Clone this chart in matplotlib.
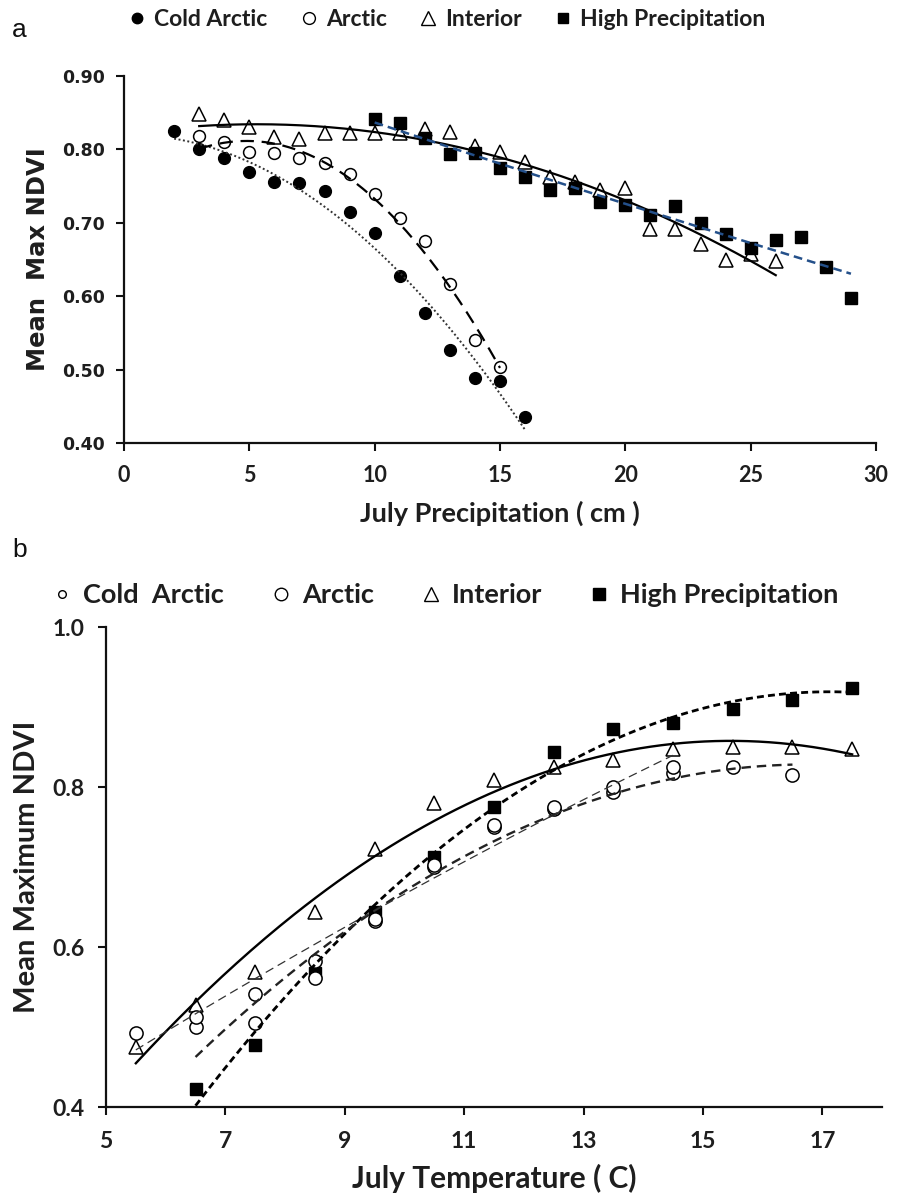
import numpy as np
import matplotlib
matplotlib.use("Agg")
import matplotlib.pyplot as plt
from matplotlib.lines import Line2D

# ---------------- Data: panel a (July precipitation) ----------------
cold_a_x = [2, 3, 4, 5, 6, 7, 8, 9, 10, 11, 12, 13, 14, 15, 16]
cold_a_y = [0.825, 0.800, 0.788, 0.769, 0.756, 0.754, 0.744, 0.715, 0.686,
            0.628, 0.577, 0.527, 0.488, 0.485, 0.435]
arctic_a_x = [3, 4, 5, 6, 7, 8, 9, 10, 11, 12, 13, 14, 15]
arctic_a_y = [0.818, 0.810, 0.796, 0.795, 0.788, 0.782, 0.766, 0.739, 0.707,
              0.675, 0.616, 0.540, 0.503]
interior_a_x = [3, 4, 5, 6, 7, 8, 9, 10, 11, 12, 13, 14, 15, 16, 17, 18, 19,
                20, 21, 22, 23, 24, 25, 26]
interior_a_y = [0.848, 0.840, 0.830, 0.817, 0.814, 0.823, 0.822, 0.822, 0.822,
                0.828, 0.824, 0.804, 0.797, 0.783, 0.763, 0.756, 0.745, 0.747,
                0.692, 0.692, 0.671, 0.649, 0.658, 0.648]
highp_a_x = [10, 11, 12, 13, 14, 15, 16, 17, 18, 19, 20, 21, 22, 23, 24, 25,
             26, 27, 28, 29]
highp_a_y = [0.842, 0.836, 0.816, 0.794, 0.795, 0.774, 0.762, 0.745, 0.748,
             0.729, 0.724, 0.710, 0.723, 0.700, 0.685, 0.665, 0.677, 0.680,
             0.640, 0.598]

# ---------------- Data: panel b (July temperature) ----------------
cold_b_x = [5.5, 6.5, 7.5, 8.5, 9.5, 10.5, 11.5, 12.5, 13.5, 14.5]
cold_b_y = [0.493, 0.512, 0.541, 0.582, 0.635, 0.703, 0.752, 0.775, 0.800, 0.825]
arctic_b_x = [6.5, 7.5, 8.5, 9.5, 10.5, 11.5, 12.5, 13.5, 14.5, 15.5, 16.5]
arctic_b_y = [0.500, 0.505, 0.561, 0.632, 0.700, 0.750, 0.773, 0.794, 0.817,
              0.825, 0.815]
interior_b_x = [5.5, 6.5, 7.5, 8.5, 9.5, 10.5, 11.5, 12.5, 13.5, 14.5, 15.5,
                16.5, 17.5]
interior_b_y = [0.475, 0.527, 0.569, 0.644, 0.723, 0.780, 0.809, 0.825, 0.834,
                0.848, 0.850, 0.850, 0.848]
highp_b_x = [6.5, 7.5, 8.5, 9.5, 10.5, 11.5, 12.5, 13.5, 14.5, 15.5, 16.5, 17.5]
highp_b_y = [0.423, 0.478, 0.567, 0.644, 0.713, 0.775, 0.844, 0.873, 0.880,
             0.898, 0.909, 0.924]

legend_labels_a = ["Cold Arctic", "Arctic", "Interior", "High Precipitation"]
legend_labels_b = ["Cold  Arctic", "Arctic", "Interior", "High Precipitation"]

xticks_a = [0, 5, 10, 15, 20, 25, 30]
yticks_a = [0.40, 0.50, 0.60, 0.70, 0.80, 0.90]
xticks_b = [5, 7, 9, 11, 13, 15, 17]
yticks_b = [0.4, 0.6, 0.8, 1.0]

CAL = "Lato"
VER = "DejaVu Sans"
BLUE = "#24508a"
TXT = "#1e1e1e"


def trend(ax, x, y, deg=2, **kw):
    x = np.asarray(x, float)
    y = np.asarray(y, float)
    c = np.polyfit(x, y, deg)
    xs = np.linspace(x.min(), x.max(), 200)
    ax.plot(xs, np.polyval(c, xs), **kw)


def style_axes(ax):
    for s in ["top", "right"]:
        ax.spines[s].set_visible(False)
    for s in ["left", "bottom"]:
        ax.spines[s].set_linewidth(1.6)
        ax.spines[s].set_color("#111111")
    ax.tick_params(direction="out", length=5.5, width=1.5, color="#111111")


fig = plt.figure(figsize=(8.97, 11.99), dpi=100)

# ================= Panel a =================
axa = fig.add_axes([124 / 897, 1 - 443 / 1199, (876 - 124) / 897, (443 - 76) / 1199])
style_axes(axa)
axa.set_xlim(0, 30)
axa.set_ylim(0.40, 0.90)

ms = 8.5
mew = 1.1
axa.plot(interior_a_x, interior_a_y, ls="none", marker="^", ms=9.5, mfc="white",
         mec="black", mew=mew, zorder=3)
axa.plot(highp_a_x, highp_a_y, ls="none", marker="s", ms=8, mfc="black",
         mec="black", zorder=3)
axa.plot(arctic_a_x, arctic_a_y, ls="none", marker="o", ms=ms, mfc="white",
         mec="black", mew=mew, zorder=3)
axa.plot(cold_a_x, cold_a_y, ls="none", marker="o", ms=ms, mfc="black",
         mec="black", zorder=3)

trend(axa, cold_a_x, cold_a_y, color="#333333", lw=1.4, ls=(0, (1, 1.3)), zorder=4)
trend(axa, arctic_a_x, arctic_a_y, color="black", lw=1.6, ls=(0, (6, 3.5)), zorder=4)
trend(axa, interior_a_x, interior_a_y, color="black", lw=1.6, ls="-", zorder=4)
trend(axa, highp_a_x, highp_a_y, color=BLUE, lw=1.8, ls=(0, (3.5, 2)), zorder=5)

axa.set_xticks(xticks_a)
axa.set_xticklabels([f"{v}" for v in xticks_a], fontfamily=CAL, fontweight="bold",
                    fontsize=15.5, color=TXT)
axa.set_yticks(yticks_a)
axa.set_yticklabels([f"{v:.2f}" for v in yticks_a], fontfamily=VER,
                    fontweight="bold", fontsize=12.5, color=TXT)
axa.tick_params(axis="x", pad=10)
axa.tick_params(axis="y", pad=8)
axa.set_xlabel("July Precipitation ( cm )", fontfamily=CAL, fontweight="bold",
               fontsize=19.5, color=TXT, labelpad=11)
axa.set_ylabel("Mean  Max NDVI", fontfamily=VER, fontweight="bold", fontsize=17.5,
               color=TXT, labelpad=9)

handles_a = [
    Line2D([], [], ls="none", marker="o", ms=7.5, mfc="black", mec="black"),
    Line2D([], [], ls="none", marker="o", ms=8.5, mfc="white", mec="black", mew=1.0),
    Line2D([], [], ls="none", marker="^", ms=9.5, mfc="white", mec="black", mew=1.0),
    Line2D([], [], ls="none", marker="s", ms=7.5, mfc="black", mec="black"),
]
fig.legend(handles_a, legend_labels_a, loc="center left",
           bbox_to_anchor=(129 / 897, 1 - 20 / 1199), ncol=4, frameon=False,
           prop={"family": CAL, "weight": "bold", "size": 16.5},
           handlelength=0.7, handletextpad=0.4, columnspacing=1.45,
           borderpad=0, borderaxespad=0, labelcolor=TXT)

fig.text(12 / 897, 1 - 30 / 1199, "a", fontfamily="Liberation Sans", fontsize=19,
         va="center", ha="left", color="#111111")

# ================= Panel b =================
axb = fig.add_axes([106 / 897, 1 - 1107 / 1199, (882 - 106) / 897, (1107 - 627) / 1199])
style_axes(axb)
axb.set_xlim(5, 18)
axb.set_ylim(0.4, 1.0)

axb.plot(interior_b_x, interior_b_y, ls="none", marker="^", ms=10, mfc="white",
         mec="black", mew=mew, zorder=3)
axb.plot(highp_b_x, highp_b_y, ls="none", marker="s", ms=8.5, mfc="black",
         mec="black", zorder=3)
axb.plot(arctic_b_x, arctic_b_y, ls="none", marker="o", ms=9.5, mfc="white",
         mec="black", mew=mew, zorder=3)
axb.plot(cold_b_x, cold_b_y, ls="none", marker="o", ms=9.5, mfc="white",
         mec="black", mew=mew, zorder=3)

trend(axb, interior_b_x, interior_b_y, color="black", lw=1.7, ls="-", zorder=4)
trend(axb, highp_b_x, highp_b_y, color="black", lw=2.0, ls=(0, (2.5, 1.5)), zorder=4)
trend(axb, arctic_b_x, arctic_b_y, color="#222222", lw=1.7, ls=(0, (4, 2.5)), zorder=4)
trend(axb, cold_b_x, cold_b_y, color="#333333", lw=0.9, ls=(0, (7, 4)), zorder=4)

axb.set_xticks(xticks_b)
axb.set_xticklabels([f"{v}" for v in xticks_b], fontfamily=CAL, fontweight="bold",
                    fontsize=16.5, color=TXT)
axb.set_yticks(yticks_b)
axb.set_yticklabels([f"{v:.1f}" for v in yticks_b], fontfamily=CAL,
                    fontweight="bold", fontsize=16.5, color=TXT)
axb.tick_params(axis="x", pad=12)
axb.tick_params(axis="y", pad=10)
axb.set_xlabel("July Temperature ( C)", fontfamily=CAL, fontweight="bold",
               fontsize=21.5, color=TXT, labelpad=8)
axb.set_ylabel("Mean Maximum NDVI", fontfamily=CAL, fontweight="bold", fontsize=21,
               color=TXT, labelpad=9)

handles_b = [
    Line2D([], [], ls="none", marker="o", ms=5.5, mfc="white", mec="black", mew=1.0),
    Line2D([], [], ls="none", marker="o", ms=9, mfc="white", mec="black", mew=1.0),
    Line2D([], [], ls="none", marker="^", ms=10, mfc="white", mec="black", mew=1.0),
    Line2D([], [], ls="none", marker="s", ms=8, mfc="black", mec="black"),
]
fig.legend(handles_b, legend_labels_b, loc="center left",
           bbox_to_anchor=(54 / 897, 1 - 595 / 1199), ncol=4, frameon=False,
           prop={"family": CAL, "weight": "bold", "size": 19.5},
           handlelength=0.6, handletextpad=0.48, columnspacing=1.8,
           borderpad=0, borderaxespad=0, labelcolor=TXT)

fig.text(12 / 897, 1 - 550 / 1199, "b", fontfamily="Liberation Sans", fontsize=19,
         va="center", ha="left", color="#111111")

fig.savefig("out.png", dpi=100, facecolor="white")
